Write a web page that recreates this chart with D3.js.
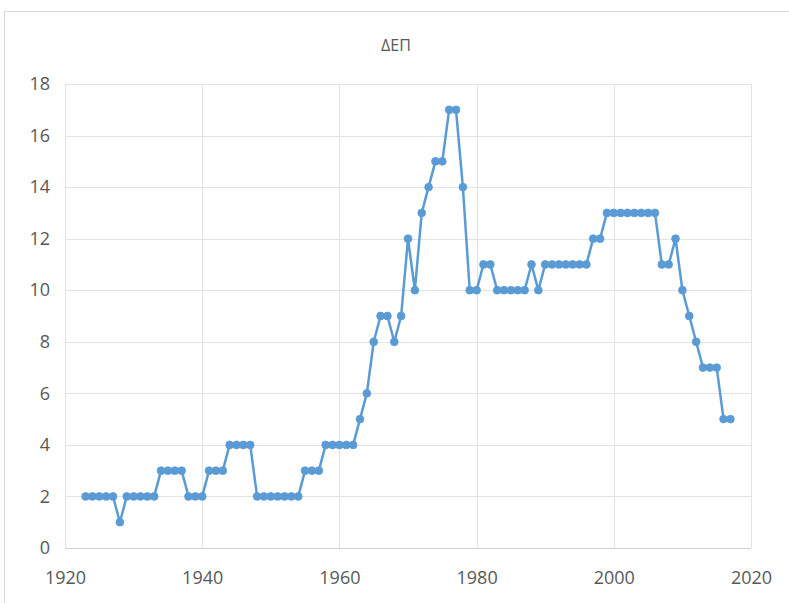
<!DOCTYPE html>
<html>
<head>
<meta charset="utf-8">
<script src="https://cdn.jsdelivr.net/npm/d3@7"></script>
<style>
  html, body { margin: 0; padding: 0; background: #fff; }
  svg { display: block; }
  text { font-family: "Open Sans", "Liberation Sans", sans-serif; }
</style>
</head>
<body>
<svg id="chart" width="789" height="603"></svg>
<script>
const title = "ΔΕΠ";
const years = [1923,1924,1925,1926,1927,1928,1929,1930,1931,1932,1933,1934,1935,1936,1937,1938,1939,1940,
  1941,1942,1943,1944,1945,1946,1947,1948,1949,1950,1951,1952,1953,1954,1955,1956,1957,1958,1959,1960,
  1961,1962,1963,1964,1965,1966,1967,1968,1969,1970,1971,1972,1973,1974,1975,1976,1977,1978,1979,1980,
  1981,1982,1983,1984,1985,1986,1987,1988,1989,1990,1991,1992,1993,1994,1995,1996,1997,1998,1999,2000,
  2001,2002,2003,2004,2005,2006,2007,2008,2009,2010,2011,2012,2013,2014,2015,2016,2017];
const values = [2,2,2,2,2,1,2,2,2,2,2,3,3,3,3,2,2,2,
  3,3,3,4,4,4,4,2,2,2,2,2,2,2,3,3,3,4,4,4,
  4,4,5,6,8,9,9,8,9,12,10,13,14,15,15,17,17,14,10,10,
  11,11,10,10,10,10,10,11,10,11,11,11,11,11,11,11,12,12,13,13,
  13,13,13,13,13,13,11,11,12,10,9,8,7,7,7,5,5];
const xTicks = [1920,1940,1960,1980,2000,2020];
const yTicks = [0,2,4,6,8,10,12,14,16,18];

const svg = d3.select("#chart");
const W = 789, H = 603;
const plot = {left: 65, right: 751, top: 84, bottom: 548};
const fontFam = "'Open Sans', 'Liberation Sans', sans-serif";

svg.append("rect").attr("x", 0).attr("y", 0).attr("width", W).attr("height", H).attr("fill", "#fff");
svg.append("rect").attr("x", 4.5).attr("y", 11.5).attr("width", 800).attr("height", 600)
  .attr("fill", "none").attr("stroke", "#d9d9d9").attr("stroke-width", 1);

const x = d3.scaleLinear().domain([1920, 2020]).range([plot.left, plot.right]);
const y = d3.scaleLinear().domain([0, 18]).range([plot.bottom, plot.top]);

// gridlines
svg.append("g").selectAll("line.h").data(yTicks).join("line")
  .attr("x1", plot.left).attr("x2", plot.right)
  .attr("y1", d => Math.round(y(d)) + 0.5).attr("y2", d => Math.round(y(d)) + 0.5)
  .attr("stroke", d => d === 0 ? "#d0d0d0" : "#e3e3e3").attr("stroke-width", 1);
svg.append("g").selectAll("line.v").data(xTicks).join("line")
  .attr("y1", plot.top).attr("y2", plot.bottom)
  .attr("x1", d => Math.round(x(d)) + 0.5).attr("x2", d => Math.round(x(d)) + 0.5)
  .attr("stroke", "#e3e3e3").attr("stroke-width", 1);

// axes (labels only)
const xAxis = d3.axisBottom(x).tickValues(xTicks).tickFormat(d3.format("d")).tickSize(0).tickPadding(0);
const gx = svg.append("g").attr("transform", `translate(0,${plot.bottom + 36})`).call(xAxis);
gx.select(".domain").remove();
gx.selectAll("text").attr("fill", "#595959").attr("font-size", 18).attr("dy", 0)
  .attr("font-family", fontFam);

const yAxis = d3.axisLeft(y).tickValues(yTicks).tickSize(0).tickPadding(0);
const gy = svg.append("g").attr("transform", `translate(${plot.left - 15},0)`).call(yAxis);
gy.select(".domain").remove();
gy.selectAll("text").attr("fill", "#595959").attr("font-size", 18)
  .attr("font-family", fontFam);

// title
svg.append("text").attr("x", 396).attr("y", 51).attr("text-anchor", "middle")
  .attr("fill", "#595959").attr("font-size", 16).text(title);

const data = years.map((yr, i) => ({year: yr, value: values[i]}));
const line = d3.line().x(d => x(d.year)).y(d => y(d.value));
svg.append("path").datum(data).attr("d", line)
  .attr("fill", "none").attr("stroke", "#5b9bd5").attr("stroke-width", 2.5)
  .attr("stroke-linejoin", "round");
svg.append("g").selectAll("circle").data(data).join("circle")
  .attr("cx", d => x(d.year)).attr("cy", d => y(d.value)).attr("r", 3.9)
  .attr("fill", "#5b9bd5").attr("stroke", "#5b9bd5").attr("stroke-width", 0.8);
</script>
</body>
</html>
